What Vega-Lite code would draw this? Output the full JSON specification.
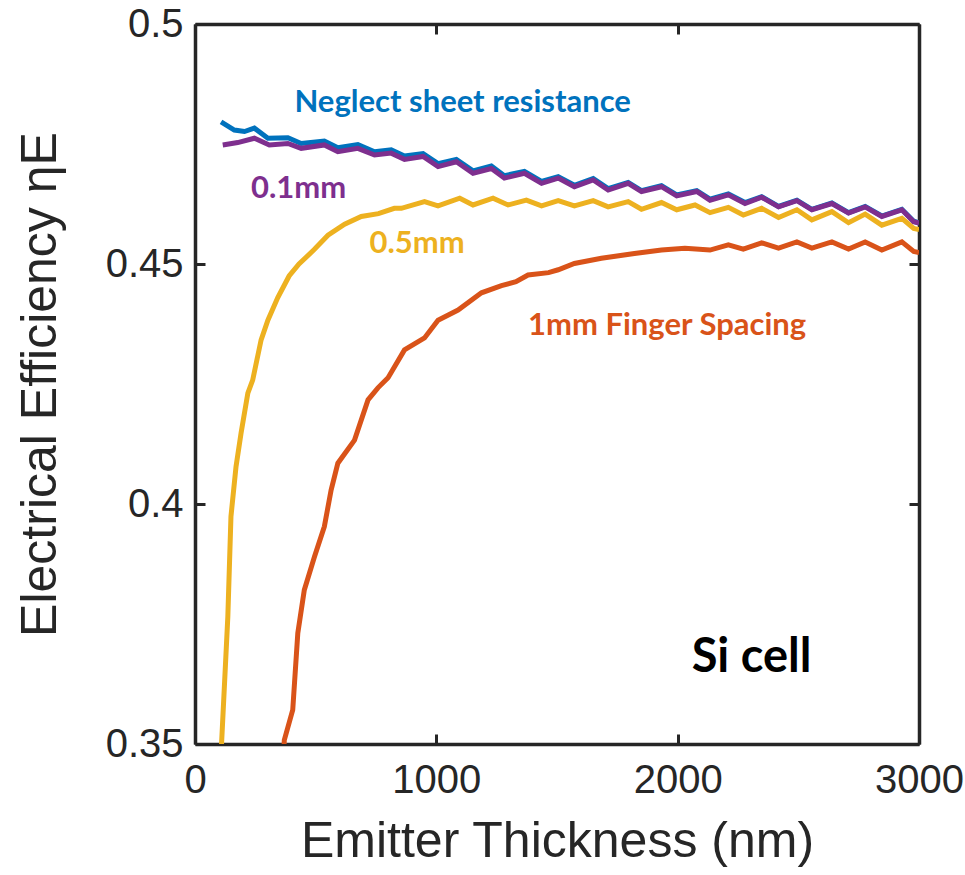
{
  "$schema": "https://vega.github.io/schema/vega-lite/v6.json",
  "autosize": "none",
  "width": 724,
  "height": 720,
  "padding": {"left": 195, "top": 24, "right": 46, "bottom": 131},
  "background": "white",
  "config": {
    "view": {"stroke": null},
    "axis": {
      "domainColor": "#262626", "domainWidth": 3.5,
      "tickColor": "#262626", "tickWidth": 3, "tickSize": -10,
      "grid": false, "labelFlush": false,
      "labelFont": "Liberation Sans", "labelFontSize": 40, "labelColor": "#262626",
      "titleFont": "Liberation Sans", "titleFontSize": 50, "titleFontWeight": "normal", "titleColor": "#262626"
    }
  },
  "datasets": {
    "curves": [
      {"series": "Neglect sheet resistance", "x": 108, "y": 0.4796},
      {"series": "Neglect sheet resistance", "x": 163, "y": 0.4779},
      {"series": "Neglect sheet resistance", "x": 205, "y": 0.4776},
      {"series": "Neglect sheet resistance", "x": 246, "y": 0.4783},
      {"series": "Neglect sheet resistance", "x": 302, "y": 0.4762},
      {"series": "Neglect sheet resistance", "x": 385, "y": 0.4763},
      {"series": "Neglect sheet resistance", "x": 440, "y": 0.4751},
      {"series": "Neglect sheet resistance", "x": 536, "y": 0.4756},
      {"series": "Neglect sheet resistance", "x": 592, "y": 0.4742},
      {"series": "Neglect sheet resistance", "x": 675, "y": 0.4749},
      {"series": "Neglect sheet resistance", "x": 744, "y": 0.4734},
      {"series": "Neglect sheet resistance", "x": 813, "y": 0.4738},
      {"series": "Neglect sheet resistance", "x": 868, "y": 0.4725},
      {"series": "Neglect sheet resistance", "x": 945, "y": 0.4730},
      {"series": "Neglect sheet resistance", "x": 1007, "y": 0.4709},
      {"series": "Neglect sheet resistance", "x": 1083, "y": 0.4718},
      {"series": "Neglect sheet resistance", "x": 1152, "y": 0.4694},
      {"series": "Neglect sheet resistance", "x": 1228, "y": 0.4704},
      {"series": "Neglect sheet resistance", "x": 1282, "y": 0.4684},
      {"series": "Neglect sheet resistance", "x": 1365, "y": 0.4693},
      {"series": "Neglect sheet resistance", "x": 1436, "y": 0.4672},
      {"series": "Neglect sheet resistance", "x": 1505, "y": 0.4682},
      {"series": "Neglect sheet resistance", "x": 1572, "y": 0.4664},
      {"series": "Neglect sheet resistance", "x": 1650, "y": 0.4678},
      {"series": "Neglect sheet resistance", "x": 1712, "y": 0.4657},
      {"series": "Neglect sheet resistance", "x": 1795, "y": 0.4670},
      {"series": "Neglect sheet resistance", "x": 1850, "y": 0.4653},
      {"series": "Neglect sheet resistance", "x": 1933, "y": 0.4663},
      {"series": "Neglect sheet resistance", "x": 1996, "y": 0.4644},
      {"series": "Neglect sheet resistance", "x": 2079, "y": 0.4653},
      {"series": "Neglect sheet resistance", "x": 2134, "y": 0.4635},
      {"series": "Neglect sheet resistance", "x": 2210, "y": 0.4646},
      {"series": "Neglect sheet resistance", "x": 2279, "y": 0.4628},
      {"series": "Neglect sheet resistance", "x": 2348, "y": 0.4640},
      {"series": "Neglect sheet resistance", "x": 2418, "y": 0.4620},
      {"series": "Neglect sheet resistance", "x": 2494, "y": 0.4633},
      {"series": "Neglect sheet resistance", "x": 2556, "y": 0.4614},
      {"series": "Neglect sheet resistance", "x": 2639, "y": 0.4627},
      {"series": "Neglect sheet resistance", "x": 2708, "y": 0.4607},
      {"series": "Neglect sheet resistance", "x": 2777, "y": 0.4620},
      {"series": "Neglect sheet resistance", "x": 2846, "y": 0.4600},
      {"series": "Neglect sheet resistance", "x": 2929, "y": 0.4614},
      {"series": "Neglect sheet resistance", "x": 2978, "y": 0.4589},
      {"series": "Neglect sheet resistance", "x": 3000, "y": 0.4586},

      {"series": "1mm", "x": 365, "y": 0.3450},
      {"series": "1mm", "x": 370, "y": 0.3508},
      {"series": "1mm", "x": 405, "y": 0.3571},
      {"series": "1mm", "x": 426, "y": 0.3731},
      {"series": "1mm", "x": 453, "y": 0.3821},
      {"series": "1mm", "x": 495, "y": 0.3890},
      {"series": "1mm", "x": 536, "y": 0.3953},
      {"series": "1mm", "x": 564, "y": 0.4029},
      {"series": "1mm", "x": 592, "y": 0.4085},
      {"series": "1mm", "x": 661, "y": 0.4133},
      {"series": "1mm", "x": 717, "y": 0.4217},
      {"series": "1mm", "x": 758, "y": 0.4242},
      {"series": "1mm", "x": 800, "y": 0.4263},
      {"series": "1mm", "x": 868, "y": 0.4321},
      {"series": "1mm", "x": 951, "y": 0.4346},
      {"series": "1mm", "x": 1007, "y": 0.4383},
      {"series": "1mm", "x": 1090, "y": 0.4404},
      {"series": "1mm", "x": 1187, "y": 0.4440},
      {"series": "1mm", "x": 1270, "y": 0.4455},
      {"series": "1mm", "x": 1330, "y": 0.4463},
      {"series": "1mm", "x": 1380, "y": 0.4477},
      {"series": "1mm", "x": 1465, "y": 0.4482},
      {"series": "1mm", "x": 1505, "y": 0.4488},
      {"series": "1mm", "x": 1572, "y": 0.4501},
      {"series": "1mm", "x": 1684, "y": 0.4512},
      {"series": "1mm", "x": 1821, "y": 0.4522},
      {"series": "1mm", "x": 1933, "y": 0.4529},
      {"series": "1mm", "x": 2030, "y": 0.4533},
      {"series": "1mm", "x": 2134, "y": 0.4529},
      {"series": "1mm", "x": 2210, "y": 0.4540},
      {"series": "1mm", "x": 2272, "y": 0.4531},
      {"series": "1mm", "x": 2348, "y": 0.4544},
      {"series": "1mm", "x": 2418, "y": 0.4533},
      {"series": "1mm", "x": 2494, "y": 0.4546},
      {"series": "1mm", "x": 2556, "y": 0.4533},
      {"series": "1mm", "x": 2639, "y": 0.4546},
      {"series": "1mm", "x": 2708, "y": 0.4531},
      {"series": "1mm", "x": 2777, "y": 0.4546},
      {"series": "1mm", "x": 2846, "y": 0.4529},
      {"series": "1mm", "x": 2929, "y": 0.4546},
      {"series": "1mm", "x": 2978, "y": 0.4526},
      {"series": "1mm", "x": 3000, "y": 0.4524},

      {"series": "0.5mm", "x": 105, "y": 0.3450},
      {"series": "0.5mm", "x": 110, "y": 0.3500},
      {"series": "0.5mm", "x": 136, "y": 0.3765},
      {"series": "0.5mm", "x": 149, "y": 0.3974},
      {"series": "0.5mm", "x": 170, "y": 0.4078},
      {"series": "0.5mm", "x": 191, "y": 0.4148},
      {"series": "0.5mm", "x": 219, "y": 0.4231},
      {"series": "0.5mm", "x": 239, "y": 0.4258},
      {"series": "0.5mm", "x": 274, "y": 0.4342},
      {"series": "0.5mm", "x": 302, "y": 0.4383},
      {"series": "0.5mm", "x": 343, "y": 0.4430},
      {"series": "0.5mm", "x": 390, "y": 0.4475},
      {"series": "0.5mm", "x": 431, "y": 0.4500},
      {"series": "0.5mm", "x": 494, "y": 0.4530},
      {"series": "0.5mm", "x": 551, "y": 0.4560},
      {"series": "0.5mm", "x": 620, "y": 0.4583},
      {"series": "0.5mm", "x": 689, "y": 0.4599},
      {"series": "0.5mm", "x": 760, "y": 0.4605},
      {"series": "0.5mm", "x": 826, "y": 0.4616},
      {"series": "0.5mm", "x": 855, "y": 0.4616},
      {"series": "0.5mm", "x": 951, "y": 0.4630},
      {"series": "0.5mm", "x": 1007, "y": 0.4621},
      {"series": "0.5mm", "x": 1097, "y": 0.4637},
      {"series": "0.5mm", "x": 1152, "y": 0.4623},
      {"series": "0.5mm", "x": 1235, "y": 0.4637},
      {"series": "0.5mm", "x": 1297, "y": 0.4623},
      {"series": "0.5mm", "x": 1373, "y": 0.4633},
      {"series": "0.5mm", "x": 1436, "y": 0.4621},
      {"series": "0.5mm", "x": 1505, "y": 0.4632},
      {"series": "0.5mm", "x": 1572, "y": 0.4621},
      {"series": "0.5mm", "x": 1650, "y": 0.4632},
      {"series": "0.5mm", "x": 1712, "y": 0.4619},
      {"series": "0.5mm", "x": 1795, "y": 0.4630},
      {"series": "0.5mm", "x": 1850, "y": 0.4614},
      {"series": "0.5mm", "x": 1933, "y": 0.4628},
      {"series": "0.5mm", "x": 1996, "y": 0.4613},
      {"series": "0.5mm", "x": 2072, "y": 0.4623},
      {"series": "0.5mm", "x": 2134, "y": 0.4607},
      {"series": "0.5mm", "x": 2210, "y": 0.4618},
      {"series": "0.5mm", "x": 2272, "y": 0.4602},
      {"series": "0.5mm", "x": 2348, "y": 0.4616},
      {"series": "0.5mm", "x": 2418, "y": 0.4597},
      {"series": "0.5mm", "x": 2494, "y": 0.4613},
      {"series": "0.5mm", "x": 2556, "y": 0.4592},
      {"series": "0.5mm", "x": 2639, "y": 0.4609},
      {"series": "0.5mm", "x": 2708, "y": 0.4586},
      {"series": "0.5mm", "x": 2777, "y": 0.4604},
      {"series": "0.5mm", "x": 2846, "y": 0.4581},
      {"series": "0.5mm", "x": 2929, "y": 0.4595},
      {"series": "0.5mm", "x": 2978, "y": 0.4574},
      {"series": "0.5mm", "x": 3000, "y": 0.4572},

      {"series": "0.1mm", "x": 115, "y": 0.4748},
      {"series": "0.1mm", "x": 177, "y": 0.4753},
      {"series": "0.1mm", "x": 246, "y": 0.4762},
      {"series": "0.1mm", "x": 308, "y": 0.4748},
      {"series": "0.1mm", "x": 385, "y": 0.4751},
      {"series": "0.1mm", "x": 440, "y": 0.4741},
      {"series": "0.1mm", "x": 536, "y": 0.4748},
      {"series": "0.1mm", "x": 592, "y": 0.4734},
      {"series": "0.1mm", "x": 675, "y": 0.4741},
      {"series": "0.1mm", "x": 744, "y": 0.4727},
      {"series": "0.1mm", "x": 813, "y": 0.4731},
      {"series": "0.1mm", "x": 868, "y": 0.4718},
      {"series": "0.1mm", "x": 945, "y": 0.4724},
      {"series": "0.1mm", "x": 1007, "y": 0.4703},
      {"series": "0.1mm", "x": 1083, "y": 0.4713},
      {"series": "0.1mm", "x": 1152, "y": 0.4689},
      {"series": "0.1mm", "x": 1228, "y": 0.4699},
      {"series": "0.1mm", "x": 1282, "y": 0.4679},
      {"series": "0.1mm", "x": 1365, "y": 0.4689},
      {"series": "0.1mm", "x": 1436, "y": 0.4668},
      {"series": "0.1mm", "x": 1505, "y": 0.4679},
      {"series": "0.1mm", "x": 1572, "y": 0.4661},
      {"series": "0.1mm", "x": 1650, "y": 0.4675},
      {"series": "0.1mm", "x": 1712, "y": 0.4654},
      {"series": "0.1mm", "x": 1795, "y": 0.4668},
      {"series": "0.1mm", "x": 1850, "y": 0.4651},
      {"series": "0.1mm", "x": 1933, "y": 0.4661},
      {"series": "0.1mm", "x": 1996, "y": 0.4642},
      {"series": "0.1mm", "x": 2079, "y": 0.4651},
      {"series": "0.1mm", "x": 2134, "y": 0.4633},
      {"series": "0.1mm", "x": 2210, "y": 0.4644},
      {"series": "0.1mm", "x": 2279, "y": 0.4626},
      {"series": "0.1mm", "x": 2348, "y": 0.4639},
      {"series": "0.1mm", "x": 2418, "y": 0.4619},
      {"series": "0.1mm", "x": 2494, "y": 0.4632},
      {"series": "0.1mm", "x": 2556, "y": 0.4613},
      {"series": "0.1mm", "x": 2639, "y": 0.4626},
      {"series": "0.1mm", "x": 2708, "y": 0.4606},
      {"series": "0.1mm", "x": 2777, "y": 0.4619},
      {"series": "0.1mm", "x": 2846, "y": 0.4599},
      {"series": "0.1mm", "x": 2929, "y": 0.4613},
      {"series": "0.1mm", "x": 2978, "y": 0.4588},
      {"series": "0.1mm", "x": 3000, "y": 0.4585}
    ],
    "labels": [
      {"series": "Neglect sheet resistance", "label": "Neglect sheet resistance", "x": 412, "y": 0.4817},
      {"series": "0.1mm", "label": "0.1mm", "x": 232, "y": 0.4637},
      {"series": "0.5mm", "label": "0.5mm", "x": 723, "y": 0.4522},
      {"series": "1mm", "label": "1mm Finger Spacing", "x": 1380, "y": 0.4352}
    ],
    "cell": [
      {"label": "Si cell", "x": 2058, "y": 0.3649}
    ]
  },
  "resolve": {"axis": {"x": "independent", "y": "independent"}},
  "layer": [
    {
      "data": {"name": "curves"},
      "transform": [{"filter": "datum.series === 'Neglect sheet resistance'"}],
      "mark": {"type": "line", "strokeWidth": 5, "clip": true},
      "encoding": {
        "x": {"field": "x", "type": "quantitative", "scale": {"domain": [0, 3000], "nice": false},
          "axis": {"orient": "bottom", "values": [0, 1000, 2000, 3000], "format": "d", "labelPadding": 26, "title": "Emitter Thickness (nm)", "titlePadding": 16}},
        "y": {"field": "y", "type": "quantitative", "scale": {"domain": [0.35, 0.5], "nice": false, "zero": false},
          "axis": {"orient": "left", "values": [0.35, 0.4, 0.45, 0.5], "format": ".2~f", "labelPadding": 22, "title": "Electrical Efficiency ηE", "titlePadding": 40}},
        "color": {"field": "series", "type": "nominal", "legend": null,
          "scale": {"domain": ["Neglect sheet resistance", "1mm", "0.5mm", "0.1mm"], "range": ["#0072BD", "#D95319", "#EDB120", "#7E2F8E"]}}
      }
    },
    {
      "data": {"name": "curves"},
      "transform": [{"filter": "datum.series === '1mm'"}],
      "mark": {"type": "line", "strokeWidth": 5, "clip": true},
      "encoding": {
        "x": {"field": "x", "type": "quantitative", "axis": null},
        "y": {"field": "y", "type": "quantitative", "axis": null},
        "color": {"field": "series", "type": "nominal", "legend": null}
      }
    },
    {
      "data": {"name": "curves"},
      "transform": [{"filter": "datum.series === '0.5mm'"}],
      "mark": {"type": "line", "strokeWidth": 5, "clip": true},
      "encoding": {
        "x": {"field": "x", "type": "quantitative", "axis": null},
        "y": {"field": "y", "type": "quantitative", "axis": null},
        "color": {"field": "series", "type": "nominal", "legend": null}
      }
    },
    {
      "data": {"name": "curves"},
      "transform": [{"filter": "datum.series === '0.1mm'"}],
      "mark": {"type": "line", "strokeWidth": 5, "clip": true},
      "encoding": {
        "x": {"field": "x", "type": "quantitative", "axis": null},
        "y": {"field": "y", "type": "quantitative", "axis": null},
        "color": {"field": "series", "type": "nominal", "legend": null}
      }
    },
    {
      "data": {"name": "labels"},
      "mark": {"type": "text", "font": "Lato", "fontWeight": "bold", "fontSize": 31, "align": "left", "baseline": "alphabetic"},
      "encoding": {
        "x": {"field": "x", "type": "quantitative", "axis": null},
        "y": {"field": "y", "type": "quantitative", "axis": null},
        "text": {"field": "label"},
        "color": {"field": "series", "type": "nominal", "legend": null}
      }
    },
    {
      "data": {"name": "cell"},
      "mark": {"type": "text", "font": "Lato", "fontWeight": "bold", "fontSize": 47, "align": "left", "baseline": "alphabetic", "color": "black"},
      "encoding": {
        "x": {"field": "x", "type": "quantitative",
          "axis": {"orient": "top", "values": [0, 1000, 2000, 3000], "labels": false, "title": null}},
        "y": {"field": "y", "type": "quantitative",
          "axis": {"orient": "right", "values": [0.35, 0.4, 0.45, 0.5], "labels": false, "title": null}},
        "text": {"field": "label"}
      }
    }
  ]
}
